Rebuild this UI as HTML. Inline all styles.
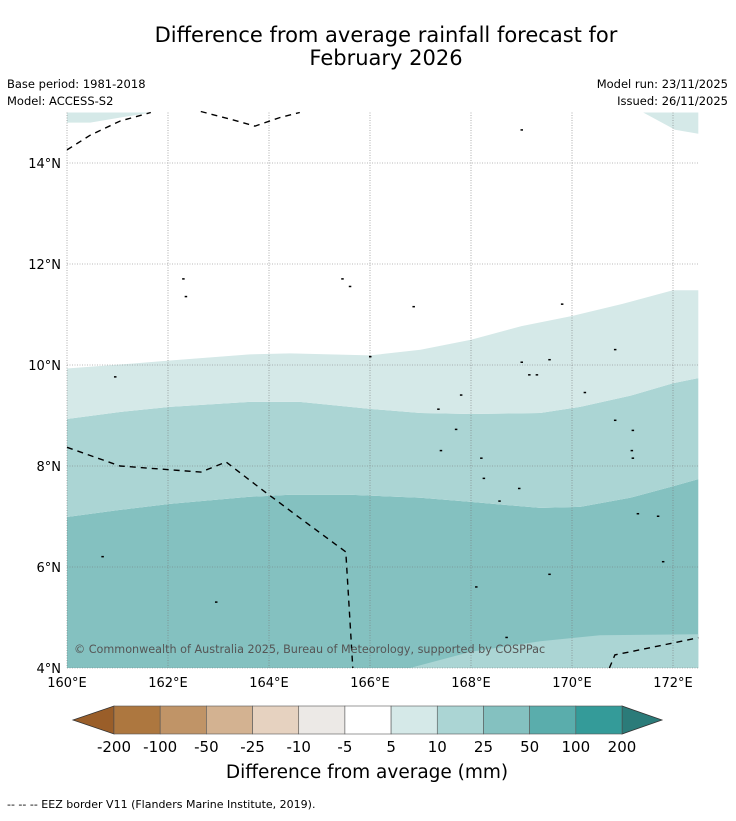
<!DOCTYPE html>
<html><head><meta charset="utf-8"><style>
body{margin:0;background:#fff;font-family:"Liberation Sans","DejaVu Sans",sans-serif;}
svg text{font-family:"DejaVu Sans","Liberation Sans",sans-serif;}
</style></head><body>
<svg id="c" width="736" height="816" viewBox="0 0 736 816" xmlns="http://www.w3.org/2000/svg">
<rect width="736" height="816" fill="#fff"/>
<text x="386" y="42" font-size="21" text-anchor="middle">Difference from average rainfall forecast for</text>
<text x="386" y="65" font-size="21" text-anchor="middle">February 2026</text>
<text x="7" y="88" font-size="11.5">Base period: 1981-2018</text>
<text x="7" y="105" font-size="11.5">Model: ACCESS-S2</text>
<text x="728" y="88" font-size="11.5" text-anchor="end">Model run: 23/11/2025</text>
<text x="728" y="105" font-size="11.5" text-anchor="end">Issued: 26/11/2025</text>
<g id="map"></g>
<g id="cbar"></g>
<text x="367" y="778" font-size="18.5" text-anchor="middle">Difference from average (mm)</text>
<text x="7" y="808" font-size="11">--  --  -- EEZ border V11 (Flanders Marine Institute, 2019).</text>
</svg>
<script>
const lonTicks=[160,162,164,166,168,170,172];
const latTicks=[4,6,8,10,12,14];
const cbLabels=["-200","-100","-50","-25","-10","-5","5","10","25","50","100","200"];
const cbColors=["#ad773f","#c09467","#d3b291","#e6d2c0","#ece9e6","#ffffff","#d5e9e8","#abd5d4","#84c1c0","#5aadac","#349b99"];
// contour boundaries [lon,lat]
const b5=[[160,9.93],[161.05,10.01],[162.04,10.09],[163.62,10.21],[164.42,10.23],[166,10.19],[167,10.3],[168,10.5],[169,10.77],[170,10.97],[171,11.21],[172,11.48],[172.5,11.48]];
const b10=[[160,8.93],[161.05,9.07],[162.04,9.17],[163.62,9.27],[164.61,9.27],[166,9.13],[167,9.05],[168,9.03],[169.37,9.05],[170.16,9.17],[171.15,9.39],[172,9.64],[172.5,9.74]];
const b25=[[160,6.99],[161.05,7.13],[162.04,7.25],[163.62,7.39],[164.42,7.43],[165.6,7.43],[167,7.37],[168,7.29],[169.37,7.17],[170.16,7.19],[171.15,7.37],[172,7.6],[172.5,7.74]];
const b25low=[[166.79,4],[168,4.32],[169.37,4.53],[170.55,4.65],[172.5,4.67]];
const patchTL=[[160,15],[160,14.8],[160.46,14.8],[161.66,15]];
const patchTR=[[171.41,15],[172.04,14.66],[172.5,14.58],[172.5,15]];
const eez1=[[160,14.26],[160.46,14.55],[161.05,14.83],[161.66,15]];
const eez2=[[162.65,15.02],[163.23,14.87],[163.72,14.73],[164.22,14.9],[164.61,15]];
const eez3=[[160,8.37],[161.05,8.0],[162.65,7.88],[163.15,8.08],[163.85,7.54],[164.64,6.95],[165.52,6.3],[165.66,4]];
const eez4=[[170.74,4],[170.85,4.26],[171.54,4.4],[172.5,4.6]];
const islands=[[160.95,9.76],[162.3,11.7],[162.35,11.35],[165.45,11.7],[165.6,11.55],[166,10.16],[166.86,11.15],[169.8,11.2],[167.8,9.4],[167.35,9.12],[167.7,8.72],[167.4,8.3],[168.2,8.15],[168.25,7.75],[168.56,7.3],[168.95,7.55],[169,10.05],[169.15,9.8],[169.3,9.8],[169.55,10.1],[170.25,9.45],[170.85,10.3],[170.85,8.9],[171.2,8.7],[171.18,8.3],[171.2,8.15],[171.3,7.05],[171.7,7.0],[171.8,6.1],[169.55,5.85],[168.1,5.6],[168.7,4.6],[160.7,6.2],[162.95,5.3],[169,14.65]];
const X=lon=>67+(lon-160)*50.5, Y=lat=>668-(lat-4)*50.5;
const NS="http://www.w3.org/2000/svg";
const map=document.getElementById('map');
function mk(tag,attrs,parent){const e=document.createElementNS(NS,tag);for(const k in attrs)e.setAttribute(k,attrs[k]);parent.appendChild(e);return e;}
const pts=a=>a.map(p=>X(p[0]).toFixed(1)+','+Y(p[1]).toFixed(1));
const x0=X(160),x1=X(172.5),yT=Y(15),yB=Y(4);
let e;
e=mk('polygon',{points:[x0+','+yB,...pts(b25),x1+','+yB].join(' '),fill:cbColors[8]},map);


e=mk('polygon',{points:[...pts(b25low),x1+','+yB].join(' '),fill:cbColors[7]},map);


e=mk('polygon',{points:[...pts(b10),...pts(b25).reverse()].join(' '),fill:cbColors[7]},map);


e=mk('polygon',{points:[...pts(b5),...pts(b10).reverse()].join(' '),fill:cbColors[6]},map);


e=mk('polygon',{points:pts(patchTL).join(' '),fill:cbColors[6]},map);


e=mk('polygon',{points:pts(patchTR).join(' '),fill:cbColors[6]},map);


lonTicks.forEach(l=>{
 const g=mk('line',{x1:X(l),x2:X(l),y1:yT,y2:yB,stroke:'#777','stroke-width':0.6,'stroke-dasharray':'1,1.5'},map);
 
 
 const t=mk('text',{x:X(l),y:yB+19,'font-size':13,'text-anchor':'middle'},map);t.textContent=l+'°E';
 
 
});
latTicks.forEach(l=>{
 const g=mk('line',{x1:x0,x2:x1,y1:Y(l),y2:Y(l),stroke:'#777','stroke-width':0.6,'stroke-dasharray':'1,1.5'},map);
 
 
 const t=mk('text',{x:x0-6,y:Y(l)+5,'font-size':13,'text-anchor':'end'},map);t.textContent=l+'°N';
 
 
});
[eez1,eez2,eez3,eez4].forEach((a,i)=>{
 const p=mk('polyline',{points:pts(a).join(' '),fill:'none',stroke:'#000','stroke-width':1.4,'stroke-dasharray':'6,5'},map);
 
 
});
islands.forEach(a=>{
 const r=mk('rect',{x:X(a[0])-1,y:Y(a[1])-1,width:2.5,height:1.5,fill:'#000'},map);
 
 
});
e=mk('text',{x:74,y:653,'font-size':11.2,fill:'#555'},map);
e.textContent='© Commonwealth of Australia 2025, Bureau of Meteorology, supported by COSPPac';


const cb=document.getElementById('cbar');
const cx0=114,cw=(622-114)/11,cy0=706,cy1=734;
e=mk('polygon',{points:`73,720 ${cx0},${cy0} ${cx0},${cy1}`,fill:'#9a5e29',stroke:'#333','stroke-width':0.8},cb);


e=mk('polygon',{points:`662,720 622,${cy0} 622,${cy1}`,fill:'#2b7b79',stroke:'#333','stroke-width':0.8},cb);


cbColors.forEach((c,i)=>{
 const r=mk('rect',{x:cx0+i*cw,y:cy0,width:cw,height:cy1-cy0,fill:c,stroke:'#555','stroke-width':0.6},cb);
 
 
});
cbLabels.forEach((s,i)=>{
 const t=mk('text',{x:cx0+i*cw,y:752,'font-size':15,'text-anchor':'middle'},cb);t.textContent=s;
 
 
});
</script>
</body></html>
